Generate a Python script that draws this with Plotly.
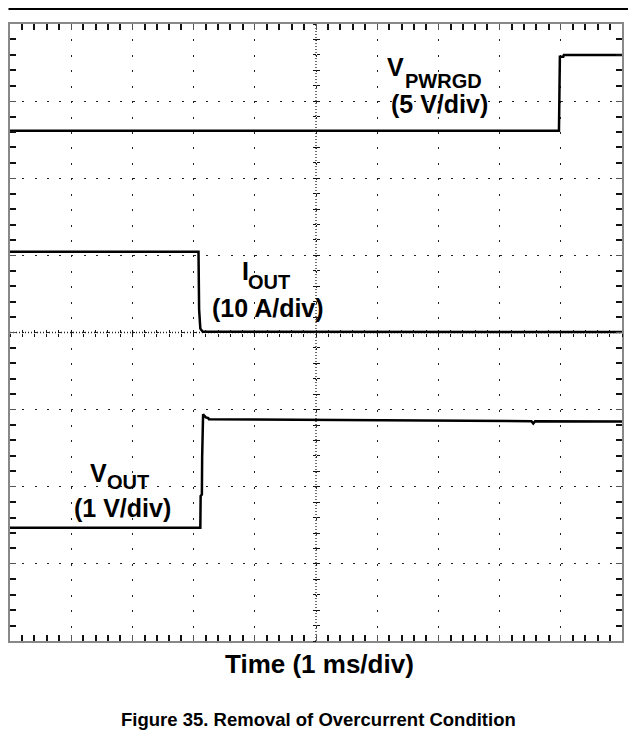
import plotly.graph_objects as go

# ---- data (screen divisions; time in ms, 1 ms/div) ----
t_pwrgd = [0, 8.97, 8.985, 9.04, 9.05, 10]
pwrgd_div = [6.616, 6.616, 7.576, 7.576, 7.598, 7.598]

t_iout = [0, 3.08, 3.09, 3.11, 3.15, 6.0, 10]
iout_div = [5.047, 5.047, 4.30, 4.05, 4.009, 4.005, 4.005]

t_vout = [0, 3.11, 3.115, 3.135, 3.14, 3.155, 3.165, 3.20, 3.24, 3.25, 6.0, 8.52, 8.55, 8.58, 10]
vout_div = [1.467, 1.467, 1.88, 1.90, 2.40, 2.94, 2.93, 2.90, 2.89, 2.875, 2.86, 2.85, 2.82, 2.85, 2.845]

labels = {
    "pwrgd": ("V", "PWRGD", "(5 V/div)"),
    "iout": ("I", "OUT", "(10 A/div)"),
    "vout": ("V", "OUT", "(1 V/div)"),
}
x_title = "Time (1 ms/div)"
caption = "Figure 35. Removal of Overcurrent Condition"

FONT = "Arial, 'Liberation Sans', sans-serif"
MAIN = 25
SUB = 20

fig = go.Figure()
line = dict(color="black", width=2.5)
for tx, ty in [(t_pwrgd, pwrgd_div), (t_iout, iout_div), (t_vout, vout_div)]:
    fig.add_trace(go.Scatter(x=tx, y=ty, mode="lines", line=line,
                             hoverinfo="skip", showlegend=False))

# dummy traces to activate the centre crosshair tick axes
for xa, ya in [("x2", "y"), ("x3", "y"), ("x", "y2"), ("x", "y3")]:
    fig.add_trace(go.Scatter(x=[None], y=[None], xaxis=xa, yaxis=ya,
                             showlegend=False, hoverinfo="skip"))

common = dict(showticklabels=False, zeroline=False, fixedrange=True)
fig.update_layout(
    width=628, height=741,
    margin=dict(l=1.5, r=14, t=16, b=108),
    paper_bgcolor="white", plot_bgcolor="white",
    showlegend=False,
    xaxis=dict(range=[0, 10], tick0=0, dtick=1, ticks="inside", ticklen=6,
               tickwidth=1, tickcolor="#555", mirror="allticks",
               showline=True, linecolor="#888", linewidth=2,
               showgrid=True, gridcolor="#222", gridwidth=1.3,
               griddash="2px,13.425px",
               minor=dict(dtick=0.2, tick0=0, ticks="inside", ticklen=3,
                          tickwidth=1.5, tickcolor="#111", showgrid=False),
               **common),
    yaxis=dict(range=[0, 8], tick0=0, dtick=1, ticks="inside", ticklen=6,
               tickwidth=1, tickcolor="#555", mirror="allticks",
               showline=True, linecolor="#888", linewidth=2,
               showgrid=True, gridcolor="#222", gridwidth=1.3,
               griddash="2px,10.25px",
               minor=dict(dtick=0.2, tick0=0, ticks="inside", ticklen=3,
                          tickwidth=1.5, tickcolor="#111", showgrid=False),
               **common),
    xaxis2=dict(overlaying="x", anchor="free", position=0.5, range=[0, 10],
                tick0=0, dtick=0.2, ticks="inside", ticklen=3, tickwidth=1.2,
                tickcolor="#111", showline=False, showgrid=False, **common),
    xaxis3=dict(overlaying="x", anchor="free", position=0.5, range=[0, 10],
                tick0=0, dtick=0.2, ticks="outside", ticklen=3, tickwidth=1.2,
                tickcolor="#111", showline=False, showgrid=False, **common),
    yaxis2=dict(overlaying="y", anchor="free", position=0.5, range=[0, 8],
                tick0=0, dtick=0.2, ticks="inside", ticklen=3, tickwidth=1.2,
                tickcolor="#111", showline=False, showgrid=False, **common),
    yaxis3=dict(overlaying="y", anchor="free", position=0.5, range=[0, 8],
                tick0=0, dtick=0.2, ticks="outside", ticklen=3, tickwidth=1.2,
                tickcolor="#111", showline=False, showgrid=False, **common),
    hovermode=False,
)

# centre crosshair (dense dotted)
fig.add_shape(type="line", xref="x", yref="y", x0=5, x1=5, y0=0, y1=8,
              line=dict(color="#222", width=1.3, dash="1px,2px"), layer="below")
fig.add_shape(type="line", xref="x", yref="y", x0=0, x1=10, y0=4, y1=4,
              line=dict(color="#222", width=1.3, dash="1px,2px"), layer="below")

# top rule
fig.add_shape(type="line", xref="paper", yref="paper", x0=-0.0025, x1=1.023,
              y0=1.0243, y1=1.0243, line=dict(color="black", width=2))


def add_label(key, main_xy, sub_xy, line2_xy):
    m, s, l2 = labels[key]
    f_main = dict(family=FONT, size=MAIN, color="black", weight="bold")
    f_sub = dict(family=FONT, size=SUB, color="black", weight="bold")
    fig.add_annotation(x=main_xy[0], y=main_xy[1], text=m, showarrow=False,
                       xanchor="left", yanchor="middle", font=f_main)
    fig.add_annotation(x=sub_xy[0], y=sub_xy[1], text=s, showarrow=False,
                       xanchor="left", yanchor="middle", font=f_sub)
    fig.add_annotation(x=line2_xy[0], y=line2_xy[1], text=l2, showarrow=False,
                       xanchor="center", yanchor="middle", font=f_main)


add_label("pwrgd", (6.12, 7.44), (6.42, 7.26), (7.02, 6.96))
add_label("iout", (3.76, 4.80), (3.85, 4.655), (4.21, 4.32))
add_label("vout", (1.27, 2.18), (1.56, 2.06), (1.84, 1.73))

fig.add_annotation(xref="paper", yref="paper", x=0.505, y=-0.037,
                   text=x_title, showarrow=False, xanchor="center",
                   yanchor="middle",
                   font=dict(family=FONT, size=26, color="black", weight="bold"))
fig.add_annotation(xref="paper", yref="paper", x=0.504, y=-0.128,
                   text=caption, showarrow=False, xanchor="center",
                   yanchor="middle",
                   font=dict(family=FONT, size=18.5, color="black", weight="bold"))

fig.write_html("out.html")
